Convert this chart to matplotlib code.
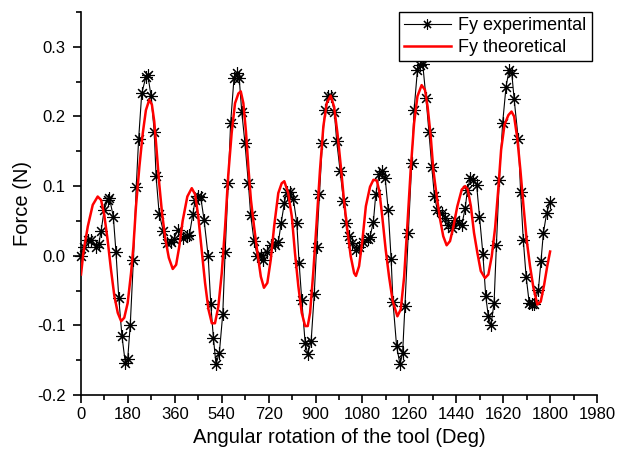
import matplotlib
matplotlib.use("Agg")
import matplotlib.pyplot as plt
from matplotlib.ticker import MultipleLocator, FormatStrFormatter

plt.rcParams['font.family'] = ['Liberation Sans', 'DejaVu Sans']
plt.rcParams['axes.unicode_minus'] = False

# experimental points (deg, N)
exp_x = [0, 13, 26, 38, 58, 68, 77, 89, 102, 109, 124, 134, 145, 157, 170, 179, 189, 201,
         212, 221, 233, 249, 256, 269, 281, 288, 300, 316, 329, 345, 356, 372, 392, 405, 416,
         429, 438, 450, 459, 472, 488, 498, 508, 518, 531, 544, 553, 565, 574, 587, 597, 607,
         617, 629, 642, 651, 664, 677, 690, 700, 713, 728, 744, 757, 768, 780, 789, 802, 815,
         828, 837, 847, 860, 870, 883, 895, 904, 915, 926, 936, 947, 959, 972, 981, 994, 1007,
         1017, 1028, 1039, 1054, 1067, 1083, 1102, 1109, 1122, 1131, 1144, 1156, 1167, 1179,
         1190, 1197, 1211, 1224, 1234, 1243, 1256, 1269, 1278, 1291, 1301, 1311, 1324, 1335,
         1346, 1356, 1367, 1384, 1397, 1410, 1422, 1435, 1452, 1461, 1474, 1483, 1493, 1506,
         1518, 1529, 1542, 1553, 1563, 1573, 1585, 1594, 1605, 1618, 1631, 1643, 1653, 1662,
         1678, 1687, 1697, 1708, 1720, 1729, 1738, 1755, 1765, 1774, 1787, 1800]
exp_y = [0.000, 0.013, 0.023, 0.023, 0.013, 0.017, 0.035, 0.066, 0.080, 0.083, 0.056, 0.006,
         -0.061, -0.115, -0.154, -0.149, -0.099, -0.006, 0.099, 0.167, 0.233, 0.257, 0.260,
         0.229, 0.178, 0.114, 0.060, 0.035, 0.018, 0.020, 0.024, 0.037, 0.025, 0.028, 0.030,
         0.060, 0.080, 0.086, 0.085, 0.052, -0.001, -0.070, -0.118, -0.156, -0.139, -0.083,
         0.005, 0.105, 0.190, 0.255, 0.262, 0.255, 0.206, 0.162, 0.105, 0.059, 0.021, -0.001,
         0.001, -0.006, 0.006, 0.016, 0.016, 0.019, 0.047, 0.075, 0.092, 0.092, 0.081, 0.047,
         -0.011, -0.063, -0.125, -0.141, -0.123, -0.055, 0.012, 0.089, 0.162, 0.209, 0.229,
         0.229, 0.207, 0.165, 0.122, 0.079, 0.047, 0.028, 0.018, 0.008, 0.012, 0.020, 0.024,
         0.027, 0.049, 0.088, 0.117, 0.122, 0.112, 0.065, -0.005, -0.066, -0.130, -0.156,
         -0.140, -0.072, 0.033, 0.133, 0.209, 0.267, 0.274, 0.276, 0.226, 0.178, 0.128, 0.086,
         0.066, 0.061, 0.054, 0.044, 0.040, 0.052, 0.047, 0.044, 0.068, 0.095, 0.111, 0.109,
         0.102, 0.056, 0.003, -0.058, -0.087, -0.100, -0.068, 0.016, 0.109, 0.191, 0.243,
         0.267, 0.262, 0.225, 0.167, 0.091, 0.023, -0.030, -0.068, -0.069, -0.070, -0.049,
         -0.008, 0.032, 0.062, 0.077]

# theoretical curve (deg, N)
th_x = [0, 9, 26, 45, 64, 77, 89, 102, 115, 128, 141, 154, 166, 179, 192, 201, 211, 224, 237,
        249, 262, 272, 281, 290, 300, 311, 324, 337, 352, 365, 377, 390, 408, 425, 438, 450,
        463, 476, 489, 502, 514, 527, 540, 553, 565, 578, 591, 604, 613, 623, 633, 642, 652,
        664, 677, 690, 702, 715, 728, 741, 757, 770, 780, 795, 809, 821, 834, 847, 860, 870,
        879, 891, 904, 917, 930, 943, 958, 971, 984, 997, 1009, 1022, 1035, 1048, 1055, 1067,
        1080, 1093, 1109, 1122, 1135, 1145, 1156, 1169, 1182, 1196, 1214, 1227, 1240, 1252,
        1265, 1278, 1291, 1307, 1320, 1330, 1342, 1352, 1365, 1378, 1390, 1403, 1416, 1429,
        1444, 1461, 1474, 1484, 1496, 1508, 1521, 1534, 1550, 1563, 1576, 1589, 1601, 1612,
        1625, 1640, 1652, 1662, 1674, 1686, 1698, 1710, 1723, 1736, 1751, 1764, 1777, 1789,
        1800]
th_y = [-0.027, 0.004, 0.042, 0.073, 0.085, 0.080, 0.059, 0.023, -0.020, -0.058, -0.082,
        -0.094, -0.089, -0.068, -0.025, 0.013, 0.071, 0.128, 0.176, 0.209, 0.224, 0.217,
        0.193, 0.152, 0.104, 0.061, 0.023, -0.003, -0.019, -0.013, 0.013, 0.050, 0.085, 0.097,
        0.088, 0.056, 0.009, -0.039, -0.077, -0.097, -0.097, -0.073, -0.025, 0.042, 0.116,
        0.176, 0.219, 0.233, 0.236, 0.219, 0.178, 0.128, 0.080, 0.042, 0.004, -0.030, -0.046,
        -0.039, -0.006, 0.042, 0.090, 0.104, 0.107, 0.090, 0.056, 0.004, -0.044, -0.082,
        -0.101, -0.101, -0.082, -0.025, 0.047, 0.123, 0.186, 0.219, 0.230, 0.214, 0.176,
        0.128, 0.080, 0.037, -0.001, -0.025, -0.029, -0.015, 0.023, 0.071, 0.099, 0.109,
        0.108, 0.092, 0.056, 0.009, -0.030, -0.065, -0.087, -0.077, -0.030, 0.042, 0.123,
        0.190, 0.229, 0.245, 0.238, 0.214, 0.171, 0.123, 0.085, 0.052, 0.028, 0.015, 0.021,
        0.042, 0.071, 0.095, 0.100, 0.095, 0.071, 0.033, 0.004, -0.022, -0.032, -0.027,
        -0.001, 0.040, 0.095, 0.152, 0.188, 0.202, 0.207, 0.200, 0.169, 0.123, 0.071, 0.023,
        -0.015, -0.046, -0.070, -0.066, -0.042, -0.015, 0.006]

fig = plt.figure(figsize=(6.17, 4.55), dpi=100)
ax = fig.add_axes([0.1313, 0.1319, 0.8363, 0.8417])

ax.plot(exp_x, exp_y, color='black', lw=0.8, marker=(8, 2, 0), ms=9, mew=0.8,
        label='Fy experimental', clip_on=False, zorder=3)
ax.plot(th_x, th_y, color='red', lw=1.8, label='Fy theoretical', zorder=4)

ax.set_xlim(0, 1980)
ax.set_ylim(-0.2, 0.35)
ax.xaxis.set_major_locator(MultipleLocator(180))
ax.xaxis.set_minor_locator(MultipleLocator(90))
ax.yaxis.set_major_locator(MultipleLocator(0.1))
ax.yaxis.set_minor_locator(MultipleLocator(0.05))
ax.yaxis.set_major_formatter(FormatStrFormatter('%.1f'))

ax.spines['top'].set_visible(False)
ax.spines['right'].set_visible(False)
ax.spines['left'].set_linewidth(1.2)
ax.spines['bottom'].set_linewidth(1.2)
ax.tick_params(which='major', direction='out', length=6, width=1.2, labelsize=12)
ax.tick_params(which='minor', direction='out', length=3.5, width=1.2)
ax.tick_params(axis='x', which='major', pad=3)
ax.tick_params(axis='y', which='major', pad=5)

ax.set_xlabel('Angular rotation of the tool (Deg)', fontsize=14.5, labelpad=4)
ax.set_ylabel('Force (N)', fontsize=14.5, labelpad=4)

leg = ax.legend(loc='upper right', bbox_to_anchor=(0.99, 1.0), fontsize=13,
                frameon=True, fancybox=False, handlelength=2.6, handletextpad=0.4,
                labelspacing=0.25, borderpad=0.3, borderaxespad=0.0, markerscale=0.8)
leg.get_frame().set_edgecolor('black')
leg.get_frame().set_linewidth(1.0)
leg.get_frame().set_alpha(1)

fig.savefig('out.png', dpi=100)
